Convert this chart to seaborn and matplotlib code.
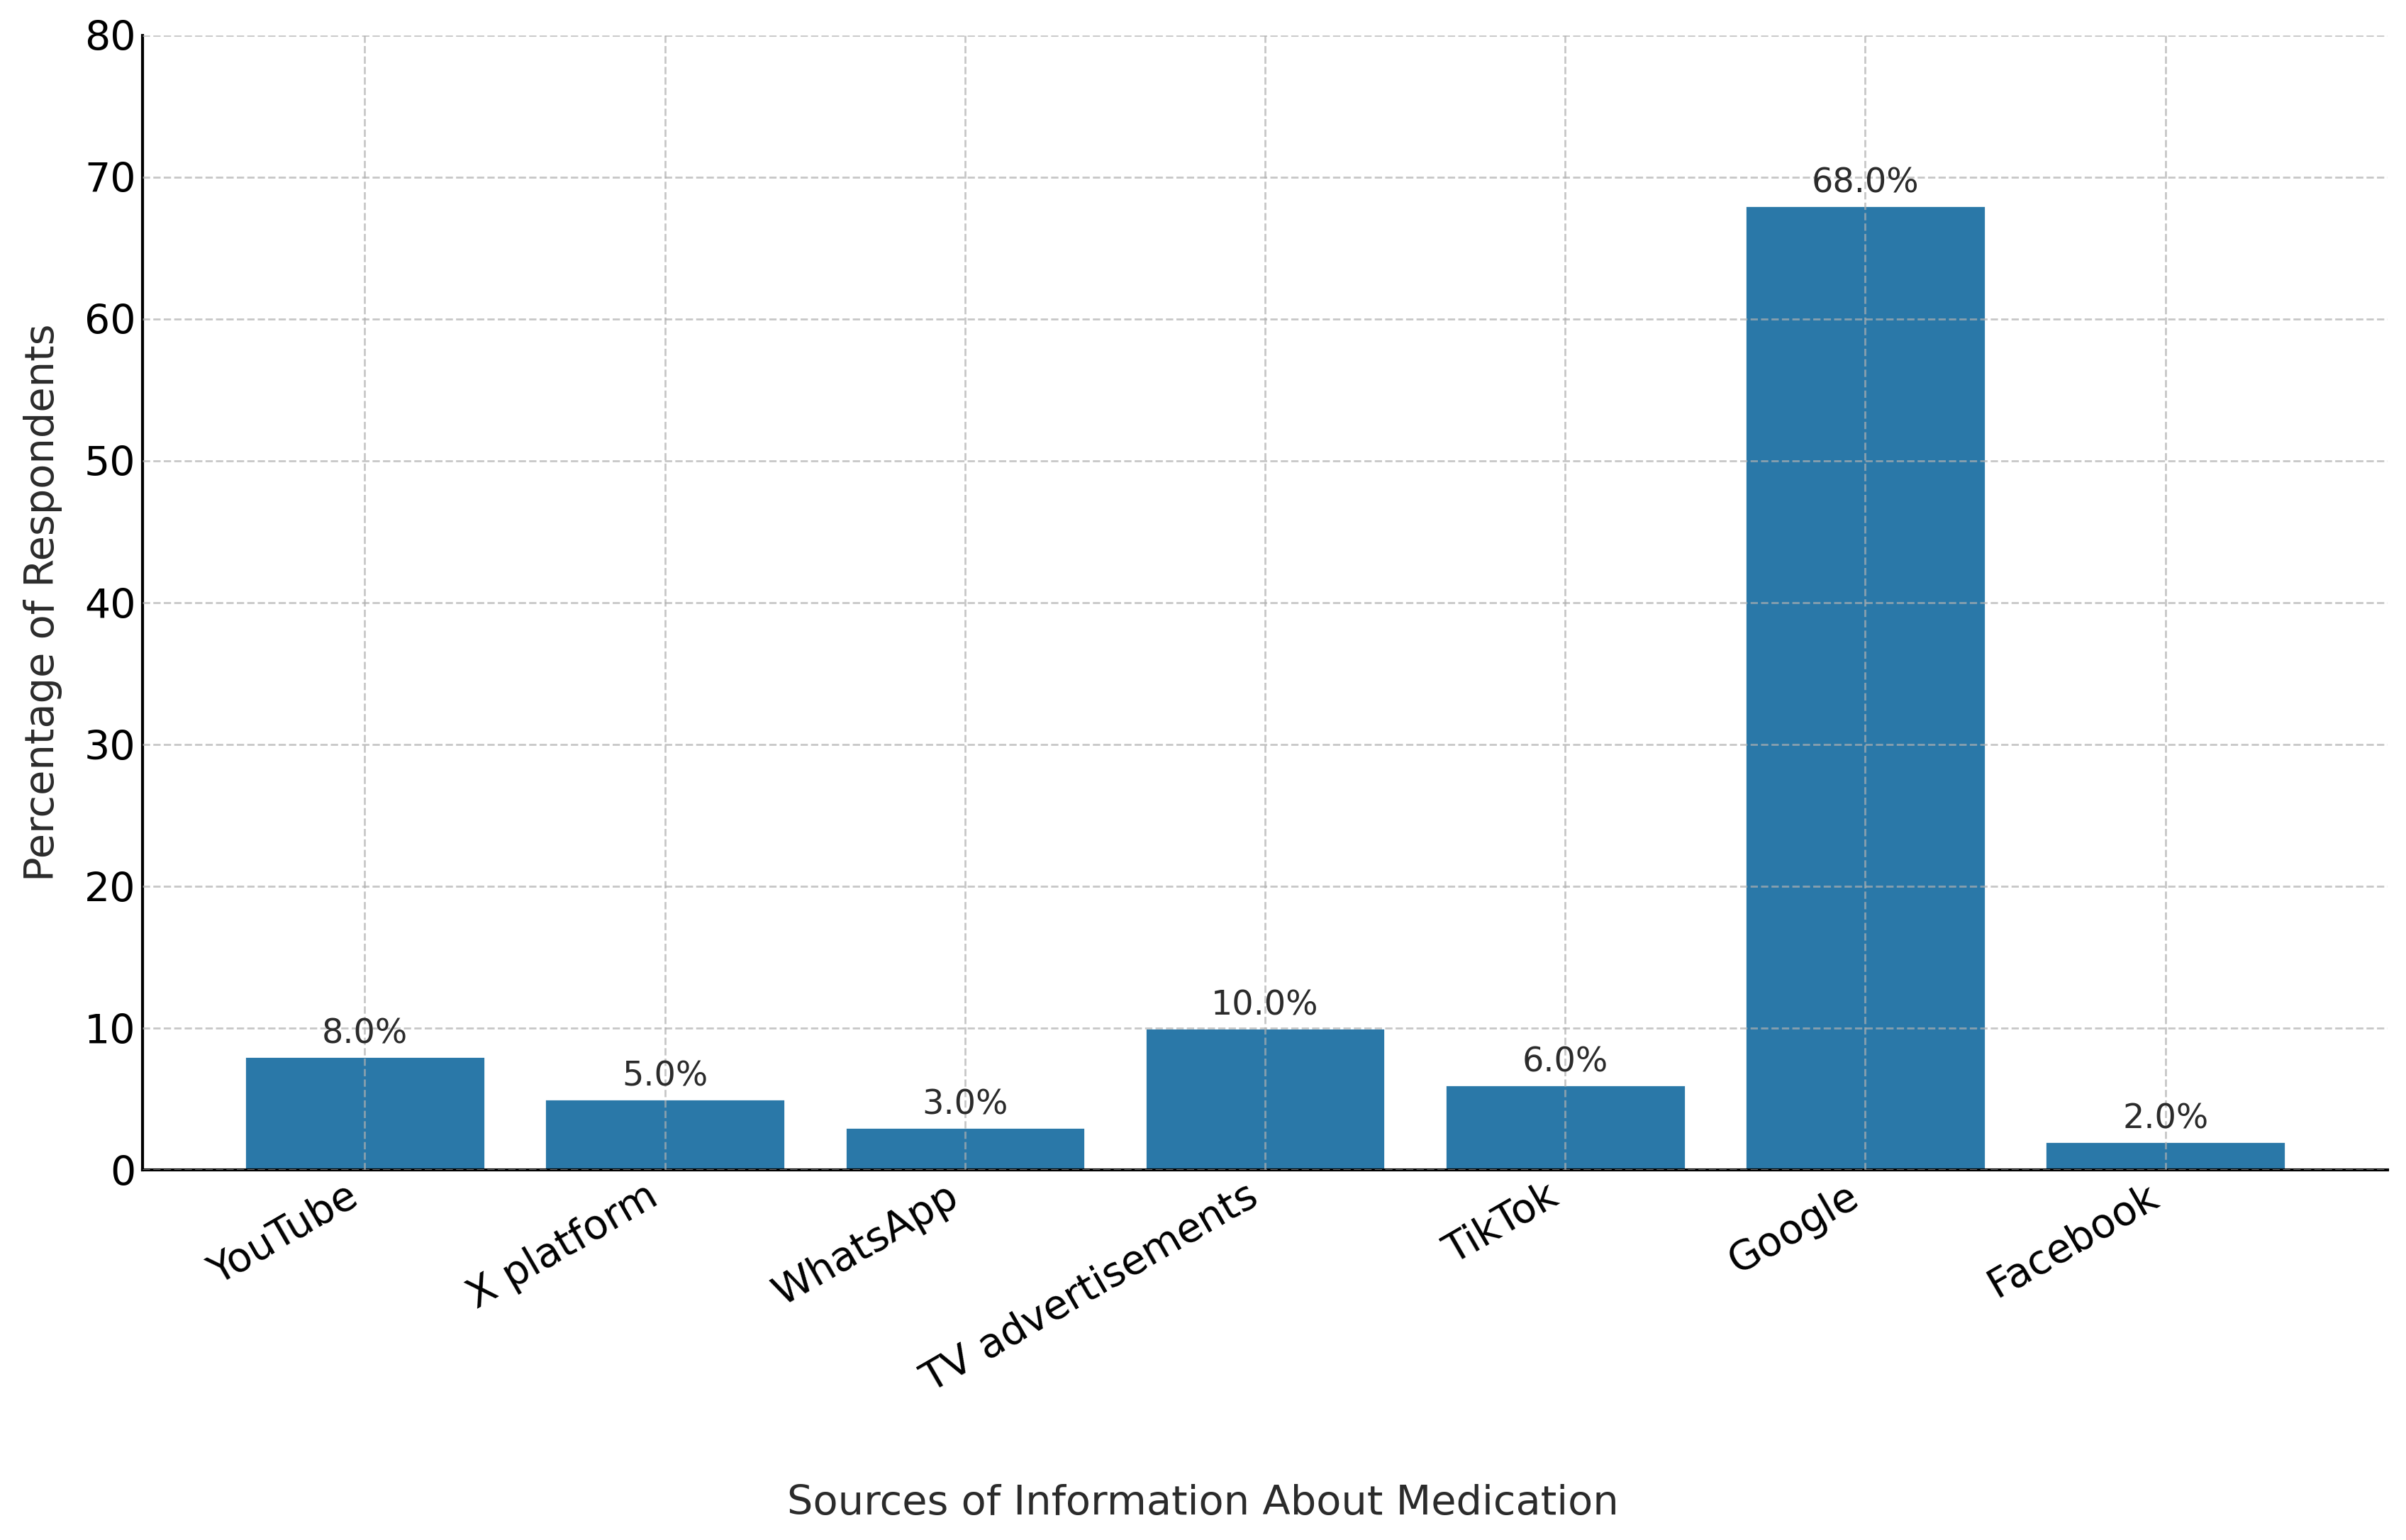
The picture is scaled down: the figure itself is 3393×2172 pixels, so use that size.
import matplotlib
matplotlib.use("Agg")
import matplotlib.pyplot as plt
import seaborn as sns
import pandas as pd

categories = ["YouTube", "X platform", "WhatsApp", "TV advertisements", "TikTok", "Google", "Facebook"]
percentages = [8.0, 5.0, 3.0, 10.0, 6.0, 68.0, 2.0]
y_ticks = [0, 10, 20, 30, 40, 50, 60, 70, 80]

sns.set_style("white")
plt.rcParams['font.family'] = ['DejaVu Sans']

df = pd.DataFrame({"source": categories, "pct": percentages})

fig = plt.figure(figsize=(3393 / 200, 2172 / 200), dpi=200)
ax = fig.add_axes([0.0593, 0.2403, 0.9923 - 0.0593, 0.977 - 0.2403])

sns.barplot(data=df, x="source", y="pct", color="#2a78a8", saturation=1,
            width=0.8, ax=ax, order=categories)

ax.set_xlim(-0.74, len(categories) - 1 + 0.74)
ax.set_ylim(0, 80)
ax.set_yticks(y_ticks)

ax.set_axisbelow(False)
ax.grid(True, which="major", axis="both", linestyle="--", color="#b0b0b0",
        alpha=0.7, linewidth=1.0, zorder=3)

for c in ax.containers:
    ax.bar_label(c, labels=[f"{v:.1f}%" for v in percentages], padding=3,
                 fontsize=17.2, color="#2b2b2b")

ax.set_xlabel("Sources of Information About Medication", fontsize=20.7, color="#2b2b2b", labelpad=42)
ax.xaxis.label.set_x(0.4723)
ax.set_ylabel("Percentage of Respondents", fontsize=20.7, color="#2b2b2b", labelpad=11)

ax.tick_params(axis="both", direction="in", length=6, width=1.4, labelsize=20.5, colors="black")
plt.setp(ax.get_xticklabels(), rotation=30, ha="right", rotation_mode="default")

for s in ["top", "right"]:
    ax.spines[s].set_visible(False)
for s in ["left", "bottom"]:
    ax.spines[s].set_linewidth(1.5)
    ax.spines[s].set_color("black")

fig.savefig("out.png", dpi=200, facecolor="white")
